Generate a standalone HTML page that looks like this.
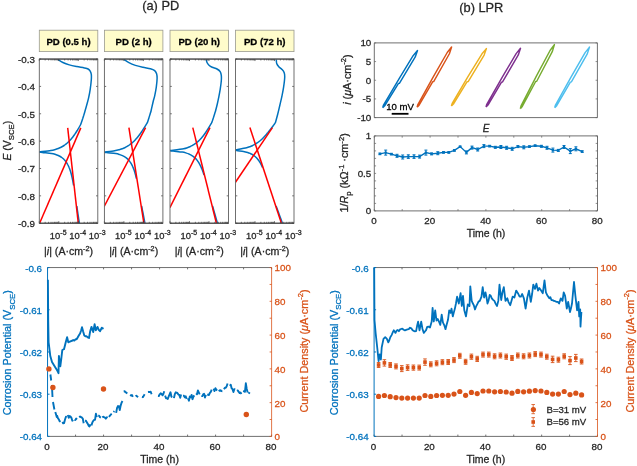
<!DOCTYPE html>
<html><head><meta charset="utf-8"><style>
html,body{margin:0;padding:0;background:#fff;width:637px;height:466px;overflow:hidden}
svg{display:block;filter:blur(0.4px)}
text{font-family:"Liberation Sans",sans-serif;stroke-width:0.28px}
</style></head><body>
<svg width="637" height="466" viewBox="0 0 637 466">
<rect width="637" height="466" fill="#fff"/>
<text x="160.7" y="10.4" font-size="12.8" text-anchor="middle" fill="#262626" stroke="#262626" >(a) PD</text>
<text x="481.3" y="12.2" font-size="12.8" text-anchor="middle" fill="#262626" stroke="#262626" >(b) LPR</text>
<rect x="39.3" y="30.2" width="58.5" height="21.4" fill="#FFFCCB" stroke="#9a9a90" stroke-width="0.8"/>
<text x="68.55" y="44.6" font-size="9.6" text-anchor="middle" fill="#000" stroke="#000" font-weight="bold">PD (0.5 h)</text>
<g clip-path="url(#pc0)">
<path d="M58,59.5 C58.82,60 61.02,61.6 62.9,62.5 C64.78,63.4 66.98,64.22 69.3,64.9 C71.62,65.58 74.3,66.1 76.8,66.6 C79.3,67.1 82.42,67.5 84.3,67.9 C86.18,68.3 87.12,68.47 88.1,69 C89.08,69.53 89.67,70.22 90.2,71.1 C90.73,71.98 91.12,72.87 91.3,74.3 C91.48,75.73 91.48,77.2 91.3,79.7 C91.12,82.2 90.65,86.27 90.2,89.3 C89.75,92.33 89.2,95.2 88.6,97.9 C88,100.6 87.27,103.07 86.6,105.5 C85.93,107.93 85.03,111 84.6,112.5 C84.17,114 84.15,114 83.99,114.5 C83.84,115 83.79,115.17 83.69,115.5 C83.58,115.83 83.48,116.17 83.37,116.5 C83.27,116.83 83.16,117.17 83.06,117.5 C82.95,117.83 82.84,118.17 82.74,118.5 C82.63,118.83 82.52,119.17 82.41,119.5 C82.3,119.83 82.19,120.17 82.08,120.5 C81.97,120.83 81.85,121.17 81.74,121.5 C81.62,121.83 81.51,122.17 81.39,122.5 C81.28,122.83 81.16,123.17 81.04,123.5 C80.92,123.83 80.83,124.17 80.68,124.5 C80.53,124.83 80.32,125.17 80.13,125.5 C79.95,125.83 79.76,126.17 79.57,126.5 C79.38,126.83 79.19,127.17 79,127.5 C78.81,127.83 78.62,128.17 78.42,128.5 C78.23,128.83 78.03,129.17 77.83,129.5 C77.63,129.83 77.43,130.17 77.22,130.5 C77.02,130.83 76.81,131.17 76.6,131.5 C76.39,131.83 76.17,132.17 75.96,132.5 C75.74,132.83 75.52,133.17 75.3,133.5 C75.07,133.83 74.85,134.17 74.61,134.5 C74.38,134.83 74.15,135.17 73.91,135.5 C73.67,135.83 73.42,136.17 73.17,136.5 C72.92,136.83 72.67,137.17 72.4,137.5 C72.14,137.83 71.87,138.17 71.6,138.5 C71.32,138.83 71.04,139.17 70.75,139.5 C70.46,139.83 70.16,140.17 69.85,140.5 C69.54,140.83 69.22,141.17 68.88,141.5 C68.55,141.83 68.21,142.17 67.85,142.5 C67.49,142.83 67.11,143.17 66.72,143.5 C66.32,143.83 65.92,144.17 65.48,144.5 C65.04,144.83 64.58,145.17 64.08,145.5 C63.59,145.83 63.07,146.17 62.49,146.5 C61.91,146.83 61.31,147.17 60.62,147.5 C59.92,147.83 59.21,148.17 58.32,148.5 C57.44,148.83 56.56,149.17 55.31,149.5 C54.06,149.83 53.49,150.08 50.83,150.5 C48.16,150.92 41.22,151.75 39.3,152.01" fill="none" stroke="#0072BD" stroke-width="1.5" stroke-linejoin="round"/>
<path d="M39.3,152.01 C39.8,152.09 40.3,152.26 42.32,152.51 C44.35,152.76 49.23,153.17 51.45,153.51 C53.66,153.84 54.46,154.17 55.6,154.51 C56.74,154.84 57.51,155.17 58.29,155.51 C59.06,155.84 59.67,156.17 60.25,156.51 C60.84,156.84 61.32,157.17 61.79,157.51 C62.26,157.84 62.66,158.17 63.05,158.51 C63.43,158.84 63.78,159.17 64.1,159.51 C64.43,159.84 64.73,160.17 65.01,160.51 C65.3,160.84 65.56,161.17 65.8,161.51 C66.05,161.84 66.28,162.17 66.5,162.51 C66.73,162.84 66.93,163.17 67.13,163.51 C67.33,163.84 67.52,164.17 67.69,164.51 C67.87,164.84 68.04,165.17 68.21,165.51 C68.37,165.84 68.52,166.17 68.67,166.51 C68.82,166.84 68.97,167.17 69.1,167.51 C69.24,167.84 69.37,168.17 69.5,168.51 C69.63,168.84 69.75,169.17 69.87,169.51 C69.99,169.84 70.1,170.17 70.21,170.51 C70.32,170.84 70.43,171.17 70.53,171.51 C70.63,171.84 70.73,172.17 70.83,172.51 C70.93,172.84 71.02,173.17 71.11,173.51 C71.2,173.84 71.29,174.17 71.38,174.51 C71.47,174.84 71.55,175.17 71.63,175.51 C71.71,175.84 71.79,176.17 71.87,176.51 C71.95,176.84 72.02,177.17 72.1,177.51 C72.17,177.84 72.24,178.17 72.31,178.51 C72.38,178.84 72.45,179.17 72.52,179.51 C72.59,179.84 72.65,180.17 72.72,180.51 C72.78,180.84 72.85,181.17 72.91,181.51 C72.97,181.84 73.03,182.17 73.09,182.51 C73.15,182.84 73.21,183.17 73.27,183.51 C73.33,183.84 73.38,184.17 73.44,184.51 C73.5,184.84 73.58,185.34 73.6,185.51" fill="none" stroke="#0072BD" stroke-width="1.5" stroke-linejoin="round"/>
<path d="M76.77,206L79.49,224.2" fill="none" stroke="#0072BD" stroke-width="1.5"/>
<line x1="67.7" y1="127.9" x2="78.3" y2="223.4" stroke="#FF0000" stroke-width="1.5"/>
<line x1="80.8" y1="127.9" x2="39.5" y2="223.4" stroke="#FF0000" stroke-width="1.5"/>
</g>
<clipPath id="pc0"><rect x="39.3" y="59.05" width="58.5" height="164.15"/></clipPath>
<path d="M39.3,59.05h1.8M97.8,59.05h-1.8M39.3,86.41h1.8M97.8,86.41h-1.8M39.3,113.77h1.8M97.8,113.77h-1.8M39.3,141.12h1.8M97.8,141.12h-1.8M39.3,168.48h1.8M97.8,168.48h-1.8M39.3,195.84h1.8M97.8,195.84h-1.8M39.3,223.2h1.8M97.8,223.2h-1.8M39.3,223.2v-2.0M39.3,59.05v2.0M45.17,223.2v-1.4M45.17,59.05v1.4M48.6,223.2v-1.4M48.6,59.05v1.4M51.04,223.2v-1.4M51.04,59.05v1.4M52.93,223.2v-1.4M52.93,59.05v1.4M54.47,223.2v-1.4M54.47,59.05v1.4M55.78,223.2v-1.4M55.78,59.05v1.4M56.91,223.2v-1.4M56.91,59.05v1.4M57.91,223.2v-1.4M57.91,59.05v1.4M58.8,223.2v-2.0M58.8,59.05v2.0M64.67,223.2v-1.4M64.67,59.05v1.4M68.1,223.2v-1.4M68.1,59.05v1.4M70.54,223.2v-1.4M70.54,59.05v1.4M72.43,223.2v-1.4M72.43,59.05v1.4M73.97,223.2v-1.4M73.97,59.05v1.4M75.28,223.2v-1.4M75.28,59.05v1.4M76.41,223.2v-1.4M76.41,59.05v1.4M77.41,223.2v-1.4M77.41,59.05v1.4M78.3,223.2v-2.0M78.3,59.05v2.0M84.17,223.2v-1.4M84.17,59.05v1.4M87.6,223.2v-1.4M87.6,59.05v1.4M90.04,223.2v-1.4M90.04,59.05v1.4M91.93,223.2v-1.4M91.93,59.05v1.4M93.47,223.2v-1.4M93.47,59.05v1.4M94.78,223.2v-1.4M94.78,59.05v1.4M95.91,223.2v-1.4M95.91,59.05v1.4M96.91,223.2v-1.4M96.91,59.05v1.4" stroke="#383838" stroke-width="0.7" fill="none"/>
<rect x="39.3" y="59.05" width="58.5" height="164.15" fill="none" stroke="#606060" stroke-width="0.9"/>
<path d="M39.3,59.05H97.8M39.3,223.2H97.8" stroke="#333" stroke-width="0.9" fill="none"/>
<text x="58.2" y="238.8" font-size="9.4" fill="#262626" stroke="#262626" text-anchor="middle">10<tspan font-size="7" dy="-3.8">-5</tspan></text>
<text x="77.7" y="238.8" font-size="9.4" fill="#262626" stroke="#262626" text-anchor="middle">10<tspan font-size="7" dy="-3.8">-4</tspan></text>
<text x="97.2" y="238.8" font-size="9.4" fill="#262626" stroke="#262626" text-anchor="middle">10<tspan font-size="7" dy="-3.8">-3</tspan></text>
<text x="68.55" y="254.6" font-size="10.6" fill="#262626" stroke="#262626" text-anchor="middle">|<tspan font-style="italic">i</tspan>| (A·cm<tspan font-size="7.2" dy="-3.9">-2</tspan><tspan dy="3.9">)</tspan></text>
<rect x="104.4" y="30.2" width="58.5" height="21.4" fill="#FFFCCB" stroke="#9a9a90" stroke-width="0.8"/>
<text x="133.65" y="44.6" font-size="9.6" text-anchor="middle" fill="#000" stroke="#000" font-weight="bold">PD (2 h)</text>
<g clip-path="url(#pc1)">
<path d="M124.1,59.5 C124.9,60.03 127.02,61.72 128.9,62.7 C130.78,63.68 133.07,64.63 135.4,65.4 C137.73,66.17 140.4,66.75 142.9,67.3 C145.4,67.85 148.43,68.15 150.4,68.7 C152.37,69.25 153.67,69.75 154.7,70.6 C155.73,71.45 156.2,72.47 156.6,73.8 C157,75.13 157.15,76.37 157.1,78.6 C157.05,80.83 156.7,84.33 156.3,87.2 C155.9,90.07 155.2,93.5 154.7,95.8 C154.2,98.1 153.9,98.52 153.3,101 C152.7,103.48 151.57,108.75 151.1,110.7 C150.63,112.65 150.65,112.2 150.51,112.7 C150.36,113.2 150.31,113.37 150.2,113.7 C150.1,114.03 150,114.37 149.9,114.7 C149.8,115.03 149.7,115.37 149.59,115.7 C149.49,116.03 149.39,116.37 149.28,116.7 C149.18,117.03 149.08,117.37 148.97,117.7 C148.87,118.03 148.76,118.37 148.65,118.7 C148.55,119.03 148.44,119.37 148.33,119.7 C148.22,120.03 148.12,120.37 148.01,120.7 C147.9,121.03 147.79,121.37 147.67,121.7 C147.56,122.03 147.49,122.37 147.34,122.7 C147.18,123.03 146.94,123.37 146.74,123.7 C146.54,124.03 146.34,124.37 146.13,124.7 C145.93,125.03 145.73,125.37 145.52,125.7 C145.31,126.03 145.11,126.37 144.9,126.7 C144.69,127.03 144.48,127.37 144.27,127.7 C144.06,128.03 143.84,128.37 143.63,128.7 C143.41,129.03 143.19,129.37 142.97,129.7 C142.75,130.03 142.53,130.37 142.31,130.7 C142.08,131.03 141.86,131.37 141.63,131.7 C141.4,132.03 141.17,132.37 140.93,132.7 C140.69,133.03 140.46,133.37 140.21,133.7 C139.97,134.03 139.73,134.37 139.48,134.7 C139.23,135.03 138.98,135.37 138.72,135.7 C138.46,136.03 138.2,136.37 137.93,136.7 C137.66,137.03 137.39,137.37 137.11,137.7 C136.83,138.03 136.55,138.37 136.26,138.7 C135.96,139.03 135.67,139.37 135.36,139.7 C135.05,140.03 134.74,140.37 134.41,140.7 C134.08,141.03 133.75,141.37 133.4,141.7 C133.05,142.03 132.69,142.37 132.31,142.7 C131.94,143.03 131.55,143.37 131.14,143.7 C130.73,144.03 130.3,144.37 129.85,144.7 C129.39,145.03 128.92,145.37 128.4,145.7 C127.89,146.03 127.35,146.37 126.75,146.7 C126.16,147.03 125.54,147.37 124.82,147.7 C124.1,148.03 123.35,148.37 122.43,148.7 C121.51,149.03 120.61,149.37 119.29,149.7 C117.98,150.03 117.03,150.3 114.55,150.7 C112.07,151.1 106.09,151.87 104.4,152.11" fill="none" stroke="#0072BD" stroke-width="1.5" stroke-linejoin="round"/>
<path d="M104.4,152.11 C104.76,152.19 104.71,152.36 106.59,152.61 C108.47,152.86 113.48,153.27 115.69,153.61 C117.9,153.94 118.69,154.27 119.82,154.61 C120.95,154.94 121.72,155.27 122.48,155.61 C123.25,155.94 123.85,156.27 124.43,156.61 C125.01,156.94 125.49,157.27 125.95,157.61 C126.41,157.94 126.81,158.27 127.19,158.61 C127.57,158.94 127.91,159.27 128.23,159.61 C128.55,159.94 128.84,160.27 129.12,160.61 C129.4,160.94 129.66,161.27 129.9,161.61 C130.15,161.94 130.37,162.27 130.59,162.61 C130.81,162.94 131.01,163.27 131.21,163.61 C131.4,163.94 131.58,164.27 131.76,164.61 C131.94,164.94 132.1,165.27 132.26,165.61 C132.42,165.94 132.58,166.27 132.72,166.61 C132.87,166.94 133.01,167.27 133.15,167.61 C133.28,167.94 133.41,168.27 133.54,168.61 C133.67,168.94 133.79,169.27 133.91,169.61 C134.02,169.94 134.14,170.27 134.25,170.61 C134.36,170.94 134.46,171.27 134.57,171.61 C134.67,171.94 134.77,172.27 134.87,172.61 C134.97,172.94 135.06,173.27 135.15,173.61 C135.25,173.94 135.34,174.27 135.42,174.61 C135.51,174.94 135.6,175.27 135.68,175.61 C135.77,175.94 135.85,176.27 135.93,176.61 C136.01,176.94 136.09,177.27 136.16,177.61 C136.24,177.94 136.35,178.44 136.39,178.61" fill="none" stroke="#0072BD" stroke-width="1.5" stroke-linejoin="round"/>
<path d="M141.59,206L145.14,224.2" fill="none" stroke="#0072BD" stroke-width="1.5"/>
<line x1="128.9" y1="127.6" x2="143.9" y2="223.3" stroke="#FF0000" stroke-width="1.5"/>
<line x1="145.6" y1="127.6" x2="104.2" y2="206.5" stroke="#FF0000" stroke-width="1.5"/>
</g>
<clipPath id="pc1"><rect x="104.4" y="59.05" width="58.5" height="164.15"/></clipPath>
<path d="M104.4,59.05h1.8M162.9,59.05h-1.8M104.4,86.41h1.8M162.9,86.41h-1.8M104.4,113.77h1.8M162.9,113.77h-1.8M104.4,141.12h1.8M162.9,141.12h-1.8M104.4,168.48h1.8M162.9,168.48h-1.8M104.4,195.84h1.8M162.9,195.84h-1.8M104.4,223.2h1.8M162.9,223.2h-1.8M104.4,223.2v-2.0M104.4,59.05v2.0M110.27,223.2v-1.4M110.27,59.05v1.4M113.7,223.2v-1.4M113.7,59.05v1.4M116.14,223.2v-1.4M116.14,59.05v1.4M118.03,223.2v-1.4M118.03,59.05v1.4M119.57,223.2v-1.4M119.57,59.05v1.4M120.88,223.2v-1.4M120.88,59.05v1.4M122.01,223.2v-1.4M122.01,59.05v1.4M123.01,223.2v-1.4M123.01,59.05v1.4M123.9,223.2v-2.0M123.9,59.05v2.0M129.77,223.2v-1.4M129.77,59.05v1.4M133.2,223.2v-1.4M133.2,59.05v1.4M135.64,223.2v-1.4M135.64,59.05v1.4M137.53,223.2v-1.4M137.53,59.05v1.4M139.07,223.2v-1.4M139.07,59.05v1.4M140.38,223.2v-1.4M140.38,59.05v1.4M141.51,223.2v-1.4M141.51,59.05v1.4M142.51,223.2v-1.4M142.51,59.05v1.4M143.4,223.2v-2.0M143.4,59.05v2.0M149.27,223.2v-1.4M149.27,59.05v1.4M152.7,223.2v-1.4M152.7,59.05v1.4M155.14,223.2v-1.4M155.14,59.05v1.4M157.03,223.2v-1.4M157.03,59.05v1.4M158.57,223.2v-1.4M158.57,59.05v1.4M159.88,223.2v-1.4M159.88,59.05v1.4M161.01,223.2v-1.4M161.01,59.05v1.4M162.01,223.2v-1.4M162.01,59.05v1.4" stroke="#383838" stroke-width="0.7" fill="none"/>
<rect x="104.4" y="59.05" width="58.5" height="164.15" fill="none" stroke="#606060" stroke-width="0.9"/>
<path d="M104.4,59.05H162.9M104.4,223.2H162.9" stroke="#333" stroke-width="0.9" fill="none"/>
<text x="123.3" y="238.8" font-size="9.4" fill="#262626" stroke="#262626" text-anchor="middle">10<tspan font-size="7" dy="-3.8">-5</tspan></text>
<text x="142.8" y="238.8" font-size="9.4" fill="#262626" stroke="#262626" text-anchor="middle">10<tspan font-size="7" dy="-3.8">-4</tspan></text>
<text x="162.3" y="238.8" font-size="9.4" fill="#262626" stroke="#262626" text-anchor="middle">10<tspan font-size="7" dy="-3.8">-3</tspan></text>
<text x="133.65" y="254.6" font-size="10.6" fill="#262626" stroke="#262626" text-anchor="middle">|<tspan font-style="italic">i</tspan>| (A·cm<tspan font-size="7.2" dy="-3.9">-2</tspan><tspan dy="3.9">)</tspan></text>
<rect x="170" y="30.2" width="58.5" height="21.4" fill="#FFFCCB" stroke="#9a9a90" stroke-width="0.8"/>
<text x="199.25" y="44.6" font-size="9.6" text-anchor="middle" fill="#000" stroke="#000" font-weight="bold">PD (20 h)</text>
<g clip-path="url(#pc2)">
<path d="M206.3,59.5 C206.42,60 206.55,61.55 207,62.5 C207.45,63.45 208.13,64.4 209,65.2 C209.87,66 210.87,66.67 212.2,67.3 C213.53,67.93 215.67,68.28 217,69 C218.33,69.72 219.48,70.53 220.2,71.6 C220.92,72.67 221.12,73.87 221.3,75.4 C221.48,76.93 221.48,78.48 221.3,80.8 C221.12,83.12 220.65,86.45 220.2,89.3 C219.75,92.15 219.08,95.45 218.6,97.9 C218.12,100.35 217.8,101.87 217.3,104 C216.8,106.13 215.99,109.25 215.6,110.7 C215.21,112.15 215.14,112.2 214.98,112.7 C214.83,113.2 214.78,113.37 214.67,113.7 C214.57,114.03 214.46,114.37 214.36,114.7 C214.25,115.03 214.15,115.37 214.04,115.7 C213.93,116.03 213.83,116.37 213.72,116.7 C213.61,117.03 213.5,117.37 213.4,117.7 C213.29,118.03 213.18,118.37 213.07,118.7 C212.96,119.03 212.85,119.37 212.73,119.7 C212.62,120.03 212.51,120.37 212.4,120.7 C212.28,121.03 212.17,121.37 212.05,121.7 C211.94,122.03 211.86,122.37 211.7,122.7 C211.55,123.03 211.32,123.37 211.13,123.7 C210.94,124.03 210.74,124.37 210.55,124.7 C210.35,125.03 210.15,125.37 209.96,125.7 C209.76,126.03 209.56,126.37 209.36,126.7 C209.16,127.03 208.95,127.37 208.75,127.7 C208.54,128.03 208.34,128.37 208.13,128.7 C207.92,129.03 207.71,129.37 207.49,129.7 C207.28,130.03 207.06,130.37 206.84,130.7 C206.62,131.03 206.4,131.37 206.18,131.7 C205.95,132.03 205.72,132.37 205.49,132.7 C205.26,133.03 205.02,133.37 204.79,133.7 C204.55,134.03 204.3,134.37 204.05,134.7 C203.81,135.03 203.55,135.37 203.29,135.7 C203.04,136.03 202.77,136.37 202.5,136.7 C202.23,137.03 201.95,137.37 201.67,137.7 C201.39,138.03 201.09,138.37 200.79,138.7 C200.49,139.03 200.18,139.37 199.86,139.7 C199.54,140.03 199.21,140.37 198.86,140.7 C198.51,141.03 198.16,141.37 197.78,141.7 C197.4,142.03 197.01,142.37 196.6,142.7 C196.18,143.03 195.75,143.37 195.28,143.7 C194.82,144.03 194.33,144.37 193.8,144.7 C193.26,145.03 192.7,145.37 192.07,145.7 C191.43,146.03 190.77,146.37 189.98,146.7 C189.19,147.03 188.39,147.37 187.33,147.7 C186.26,148.03 186.49,148.22 183.6,148.7 C180.71,149.18 172.27,150.28 170,150.6" fill="none" stroke="#0072BD" stroke-width="1.5" stroke-linejoin="round"/>
<path d="M170,150.6 C170.52,150.68 171.09,150.85 173.13,151.1 C175.18,151.35 180.07,151.77 182.29,152.1 C184.52,152.43 185.33,152.77 186.48,153.1 C187.63,153.43 188.41,153.77 189.2,154.1 C189.99,154.43 190.61,154.77 191.2,155.1 C191.8,155.43 192.3,155.77 192.78,156.1 C193.26,156.43 193.68,156.77 194.08,157.1 C194.48,157.43 194.84,157.77 195.19,158.1 C195.53,158.43 195.84,158.77 196.14,159.1 C196.44,159.43 196.72,159.77 196.98,160.1 C197.25,160.43 197.49,160.77 197.73,161.1 C197.97,161.43 198.2,161.77 198.41,162.1 C198.63,162.43 198.83,162.77 199.03,163.1 C199.23,163.43 199.42,163.77 199.6,164.1 C199.78,164.43 199.96,164.77 200.13,165.1 C200.3,165.43 200.46,165.77 200.62,166.1 C200.78,166.43 200.93,166.77 201.08,167.1 C201.23,167.43 201.37,167.77 201.51,168.1 C201.65,168.43 201.79,168.77 201.92,169.1 C202.05,169.43 202.18,169.77 202.31,170.1 C202.44,170.43 202.56,170.77 202.68,171.1 C202.8,171.43 202.92,171.77 203.04,172.1 C203.16,172.43 203.27,172.77 203.38,173.1 C203.5,173.43 203.61,173.77 203.71,174.1 C203.82,174.43 203.98,174.93 204.04,175.1" fill="none" stroke="#0072BD" stroke-width="1.5" stroke-linejoin="round"/>
<path d="M212.53,206L217.72,224.2" fill="none" stroke="#0072BD" stroke-width="1.5"/>
<line x1="192.8" y1="127.6" x2="216.4" y2="223.3" stroke="#FF0000" stroke-width="1.5"/>
<line x1="210" y1="127.6" x2="169.9" y2="207.6" stroke="#FF0000" stroke-width="1.5"/>
</g>
<clipPath id="pc2"><rect x="170" y="59.05" width="58.5" height="164.15"/></clipPath>
<path d="M170,59.05h1.8M228.5,59.05h-1.8M170,86.41h1.8M228.5,86.41h-1.8M170,113.77h1.8M228.5,113.77h-1.8M170,141.12h1.8M228.5,141.12h-1.8M170,168.48h1.8M228.5,168.48h-1.8M170,195.84h1.8M228.5,195.84h-1.8M170,223.2h1.8M228.5,223.2h-1.8M170,223.2v-2.0M170,59.05v2.0M175.87,223.2v-1.4M175.87,59.05v1.4M179.3,223.2v-1.4M179.3,59.05v1.4M181.74,223.2v-1.4M181.74,59.05v1.4M183.63,223.2v-1.4M183.63,59.05v1.4M185.17,223.2v-1.4M185.17,59.05v1.4M186.48,223.2v-1.4M186.48,59.05v1.4M187.61,223.2v-1.4M187.61,59.05v1.4M188.61,223.2v-1.4M188.61,59.05v1.4M189.5,223.2v-2.0M189.5,59.05v2.0M195.37,223.2v-1.4M195.37,59.05v1.4M198.8,223.2v-1.4M198.8,59.05v1.4M201.24,223.2v-1.4M201.24,59.05v1.4M203.13,223.2v-1.4M203.13,59.05v1.4M204.67,223.2v-1.4M204.67,59.05v1.4M205.98,223.2v-1.4M205.98,59.05v1.4M207.11,223.2v-1.4M207.11,59.05v1.4M208.11,223.2v-1.4M208.11,59.05v1.4M209,223.2v-2.0M209,59.05v2.0M214.87,223.2v-1.4M214.87,59.05v1.4M218.3,223.2v-1.4M218.3,59.05v1.4M220.74,223.2v-1.4M220.74,59.05v1.4M222.63,223.2v-1.4M222.63,59.05v1.4M224.17,223.2v-1.4M224.17,59.05v1.4M225.48,223.2v-1.4M225.48,59.05v1.4M226.61,223.2v-1.4M226.61,59.05v1.4M227.61,223.2v-1.4M227.61,59.05v1.4" stroke="#383838" stroke-width="0.7" fill="none"/>
<rect x="170" y="59.05" width="58.5" height="164.15" fill="none" stroke="#606060" stroke-width="0.9"/>
<path d="M170,59.05H228.5M170,223.2H228.5" stroke="#333" stroke-width="0.9" fill="none"/>
<text x="188.9" y="238.8" font-size="9.4" fill="#262626" stroke="#262626" text-anchor="middle">10<tspan font-size="7" dy="-3.8">-5</tspan></text>
<text x="208.4" y="238.8" font-size="9.4" fill="#262626" stroke="#262626" text-anchor="middle">10<tspan font-size="7" dy="-3.8">-4</tspan></text>
<text x="227.9" y="238.8" font-size="9.4" fill="#262626" stroke="#262626" text-anchor="middle">10<tspan font-size="7" dy="-3.8">-3</tspan></text>
<text x="199.25" y="254.6" font-size="10.6" fill="#262626" stroke="#262626" text-anchor="middle">|<tspan font-style="italic">i</tspan>| (A·cm<tspan font-size="7.2" dy="-3.9">-2</tspan><tspan dy="3.9">)</tspan></text>
<rect x="235.5" y="30.2" width="58.5" height="21.4" fill="#FFFCCB" stroke="#9a9a90" stroke-width="0.8"/>
<text x="264.75" y="44.6" font-size="9.6" text-anchor="middle" fill="#000" stroke="#000" font-weight="bold">PD (72 h)</text>
<g clip-path="url(#pc3)">
<path d="M276.3,59.5 C276.37,60.18 276.28,62.38 276.7,63.6 C277.12,64.82 277.92,65.82 278.8,66.8 C279.68,67.78 281.1,68.52 282,69.5 C282.9,70.48 283.75,71.37 284.2,72.7 C284.65,74.03 284.8,75.08 284.7,77.5 C284.6,79.92 284.05,84.15 283.6,87.2 C283.15,90.25 282.62,92.83 282,95.8 C281.38,98.77 280.47,102.52 279.9,105 C279.33,107.48 278.9,109.42 278.6,110.7 C278.3,111.98 278.21,112.2 278.08,112.7 C277.95,113.2 277.91,113.37 277.82,113.7 C277.74,114.03 277.65,114.37 277.56,114.7 C277.47,115.03 277.39,115.37 277.3,115.7 C277.21,116.03 277.12,116.37 277.03,116.7 C276.94,117.03 276.85,117.37 276.76,117.7 C276.67,118.03 276.58,118.37 276.49,118.7 C276.4,119.03 276.31,119.37 276.22,119.7 C276.13,120.03 276.03,120.37 275.94,120.7 C275.85,121.03 275.75,121.37 275.66,121.7 C275.56,122.03 275.54,122.37 275.37,122.7 C275.2,123.03 274.89,123.37 274.65,123.7 C274.41,124.03 274.17,124.37 273.93,124.7 C273.68,125.03 273.44,125.37 273.2,125.7 C272.95,126.03 272.7,126.37 272.46,126.7 C272.21,127.03 271.96,127.37 271.71,127.7 C271.46,128.03 271.21,128.37 270.95,128.7 C270.7,129.03 270.44,129.37 270.18,129.7 C269.92,130.03 269.66,130.37 269.4,130.7 C269.14,131.03 268.87,131.37 268.6,131.7 C268.33,132.03 268.06,132.37 267.79,132.7 C267.51,133.03 267.24,133.37 266.95,133.7 C266.67,134.03 266.39,134.37 266.1,134.7 C265.8,135.03 265.51,135.37 265.21,135.7 C264.91,136.03 264.6,136.37 264.29,136.7 C263.98,137.03 263.66,137.37 263.33,137.7 C263.01,138.03 262.67,138.37 262.33,138.7 C261.98,139.03 261.63,139.37 261.26,139.7 C260.9,140.03 260.52,140.37 260.13,140.7 C259.74,141.03 259.33,141.37 258.91,141.7 C258.48,142.03 258.04,142.37 257.57,142.7 C257.1,143.03 256.61,143.37 256.08,143.7 C255.55,144.03 255,144.37 254.38,144.7 C253.77,145.03 253.13,145.37 252.39,145.7 C251.64,146.03 250.88,146.37 249.93,146.7 C248.97,147.03 248.04,147.37 246.66,147.7 C245.27,148.03 243.46,148.32 241.6,148.7 C239.75,149.08 236.52,149.77 235.5,149.99" fill="none" stroke="#0072BD" stroke-width="1.5" stroke-linejoin="round"/>
<path d="M235.5,149.99 C235.69,150.07 235.3,150.24 236.64,150.49 C237.97,150.74 241.68,151.16 243.52,151.49 C245.35,151.82 246.53,152.16 247.66,152.49 C248.8,152.82 249.57,153.16 250.34,153.49 C251.12,153.82 251.72,154.16 252.31,154.49 C252.9,154.82 253.39,155.16 253.86,155.49 C254.33,155.82 254.74,156.16 255.13,156.49 C255.52,156.82 255.87,157.16 256.21,157.49 C256.54,157.82 256.85,158.16 257.14,158.49 C257.43,158.82 257.7,159.16 257.96,159.49 C258.22,159.82 258.47,160.16 258.7,160.49 C258.93,160.82 259.15,161.16 259.37,161.49 C259.58,161.82 259.78,162.16 259.98,162.49 C260.17,162.82 260.36,163.16 260.54,163.49 C260.73,163.82 260.9,164.16 261.07,164.49 C261.24,164.82 261.41,165.16 261.57,165.49 C261.73,165.82 261.88,166.16 262.03,166.49 C262.19,166.82 262.4,167.32 262.48,167.49" fill="none" stroke="#0072BD" stroke-width="1.5" stroke-linejoin="round"/>
<path d="M276.11,206L282.8,224.2" fill="none" stroke="#0072BD" stroke-width="1.5"/>
<line x1="249.9" y1="127.6" x2="281.4" y2="223.3" stroke="#FF0000" stroke-width="1.5"/>
<line x1="272.4" y1="127.6" x2="235.3" y2="182.5" stroke="#FF0000" stroke-width="1.5"/>
</g>
<clipPath id="pc3"><rect x="235.5" y="59.05" width="58.5" height="164.15"/></clipPath>
<path d="M235.5,59.05h1.8M294,59.05h-1.8M235.5,86.41h1.8M294,86.41h-1.8M235.5,113.77h1.8M294,113.77h-1.8M235.5,141.12h1.8M294,141.12h-1.8M235.5,168.48h1.8M294,168.48h-1.8M235.5,195.84h1.8M294,195.84h-1.8M235.5,223.2h1.8M294,223.2h-1.8M235.5,223.2v-2.0M235.5,59.05v2.0M241.37,223.2v-1.4M241.37,59.05v1.4M244.8,223.2v-1.4M244.8,59.05v1.4M247.24,223.2v-1.4M247.24,59.05v1.4M249.13,223.2v-1.4M249.13,59.05v1.4M250.67,223.2v-1.4M250.67,59.05v1.4M251.98,223.2v-1.4M251.98,59.05v1.4M253.11,223.2v-1.4M253.11,59.05v1.4M254.11,223.2v-1.4M254.11,59.05v1.4M255,223.2v-2.0M255,59.05v2.0M260.87,223.2v-1.4M260.87,59.05v1.4M264.3,223.2v-1.4M264.3,59.05v1.4M266.74,223.2v-1.4M266.74,59.05v1.4M268.63,223.2v-1.4M268.63,59.05v1.4M270.17,223.2v-1.4M270.17,59.05v1.4M271.48,223.2v-1.4M271.48,59.05v1.4M272.61,223.2v-1.4M272.61,59.05v1.4M273.61,223.2v-1.4M273.61,59.05v1.4M274.5,223.2v-2.0M274.5,59.05v2.0M280.37,223.2v-1.4M280.37,59.05v1.4M283.8,223.2v-1.4M283.8,59.05v1.4M286.24,223.2v-1.4M286.24,59.05v1.4M288.13,223.2v-1.4M288.13,59.05v1.4M289.67,223.2v-1.4M289.67,59.05v1.4M290.98,223.2v-1.4M290.98,59.05v1.4M292.11,223.2v-1.4M292.11,59.05v1.4M293.11,223.2v-1.4M293.11,59.05v1.4" stroke="#383838" stroke-width="0.7" fill="none"/>
<rect x="235.5" y="59.05" width="58.5" height="164.15" fill="none" stroke="#606060" stroke-width="0.9"/>
<path d="M235.5,59.05H294M235.5,223.2H294" stroke="#333" stroke-width="0.9" fill="none"/>
<text x="254.4" y="238.8" font-size="9.4" fill="#262626" stroke="#262626" text-anchor="middle">10<tspan font-size="7" dy="-3.8">-5</tspan></text>
<text x="273.9" y="238.8" font-size="9.4" fill="#262626" stroke="#262626" text-anchor="middle">10<tspan font-size="7" dy="-3.8">-4</tspan></text>
<text x="293.4" y="238.8" font-size="9.4" fill="#262626" stroke="#262626" text-anchor="middle">10<tspan font-size="7" dy="-3.8">-3</tspan></text>
<text x="264.75" y="254.6" font-size="10.6" fill="#262626" stroke="#262626" text-anchor="middle">|<tspan font-style="italic">i</tspan>| (A·cm<tspan font-size="7.2" dy="-3.9">-2</tspan><tspan dy="3.9">)</tspan></text>
<text x="35" y="63.05" font-size="9.8" text-anchor="end" fill="#262626" stroke="#262626" >-0.3</text>
<text x="35" y="90.41" font-size="9.8" text-anchor="end" fill="#262626" stroke="#262626" >-0.4</text>
<text x="35" y="117.77" font-size="9.8" text-anchor="end" fill="#262626" stroke="#262626" >-0.5</text>
<text x="35" y="145.12" font-size="9.8" text-anchor="end" fill="#262626" stroke="#262626" >-0.6</text>
<text x="35" y="172.48" font-size="9.8" text-anchor="end" fill="#262626" stroke="#262626" >-0.7</text>
<text x="35" y="199.84" font-size="9.8" text-anchor="end" fill="#262626" stroke="#262626" >-0.8</text>
<text x="35" y="227.2" font-size="9.8" text-anchor="end" fill="#262626" stroke="#262626" >-0.9</text>
<text transform="translate(10.6,140.6) rotate(-90)" font-size="10.4" fill="#262626" stroke="#262626" text-anchor="middle"><tspan font-style="italic">E</tspan> (V<tspan font-size="7.8" dy="3.4">SCE</tspan><tspan dy="-3.4">)</tspan></text>
<path d="M374.3,42.9H597.4V117.6H374.3Z" fill="none" stroke="#606060" stroke-width="0.9"/>
<path d="M374.3,42.9h1.8M597.4,42.9h-1.8M374.3,61.57h1.8M597.4,61.57h-1.8M374.3,80.25h1.8M597.4,80.25h-1.8M374.3,98.92h1.8M597.4,98.92h-1.8M374.3,117.6h1.8M597.4,117.6h-1.8" stroke="#606060" stroke-width="0.7" fill="none"/>
<text x="371.3" y="46.4" font-size="9.8" text-anchor="end" fill="#262626" stroke="#262626" >10</text>
<text x="371.3" y="65.07" font-size="9.8" text-anchor="end" fill="#262626" stroke="#262626" >5</text>
<text x="371.3" y="83.75" font-size="9.8" text-anchor="end" fill="#262626" stroke="#262626" >0</text>
<text x="371.3" y="102.42" font-size="9.8" text-anchor="end" fill="#262626" stroke="#262626" >-5</text>
<text x="371.3" y="121.1" font-size="9.8" text-anchor="end" fill="#262626" stroke="#262626" >-10</text>
<text transform="translate(350.8,79.6) rotate(-90)" font-size="10.8" fill="#262626" stroke="#262626" text-anchor="middle"><tspan font-style="italic">i</tspan> (<tspan font-style="italic">μ</tspan>A·cm<tspan font-size="7.6" dy="-5">-2</tspan><tspan dy="5">)</tspan></text>
<path d="M382.7,107.7 L383.49,105.05 L399.16,78.53 L413.12,55.67 L417.5,50.5 L415.26,56.97 L399.38,83.36 L398.35,83.52 L384.69,105.78 L382.7,107.7" fill="none" stroke="#0072BD" stroke-width="1.45" stroke-linejoin="round"/>
<path d="M417.1,107.3 L417.87,104.54 L433.4,76.6 L447.24,52.51 L451.6,47 L449.41,53.75 L433.67,81.56 L432.63,81.77 L419.09,105.24 L417.1,107.3" fill="none" stroke="#D95319" stroke-width="1.45" stroke-linejoin="round"/>
<path d="M451.4,106 L452.2,103.34 L467.96,76.73 L482,53.79 L486.4,48.6 L484.14,55.09 L468.17,81.58 L467.13,81.73 L453.4,104.07 L451.4,106" fill="none" stroke="#EDB120" stroke-width="1.45" stroke-linejoin="round"/>
<path d="M486,107 L486.78,104.3 L502.3,77.09 L516.14,53.64 L520.5,48.3 L518.3,54.9 L502.56,81.98 L501.52,82.16 L487.98,105.01 L486,107" fill="none" stroke="#7E2F8E" stroke-width="1.45" stroke-linejoin="round"/>
<path d="M520.3,108.7 L521.05,105.81 L536.38,76.13 L550.06,50.52 L554.4,44.6 L552.27,51.69 L536.72,81.25 L535.67,81.51 L522.28,106.46 L520.3,108.7" fill="none" stroke="#77AC30" stroke-width="1.45" stroke-linejoin="round"/>
<path d="M554.7,107.8 L555.48,105.02 L571.15,76.9 L585.11,52.65 L589.5,47.1 L587.28,53.89 L571.4,81.89 L570.36,82.1 L556.7,105.72 L554.7,107.8" fill="none" stroke="#4DBEEE" stroke-width="1.45" stroke-linejoin="round"/>
<text x="400" y="109.8" font-size="9.6" fill="#000" stroke="#000" text-anchor="middle">10 mV</text>
<line x1="391.7" y1="113.8" x2="408.5" y2="113.8" stroke="#000" stroke-width="1.8"/>
<text x="486" y="131.5" font-size="10" fill="#262626" stroke="#262626" text-anchor="middle" font-style="italic">E</text>
<path d="M374.3,135.9H597.5V210.9H374.3Z" fill="none" stroke="#606060" stroke-width="0.9"/>
<path d="M374.3,135.9h1.8M597.5,135.9h-1.8M374.3,143.4h1.8M597.5,143.4h-1.8M374.3,150.9h1.8M597.5,150.9h-1.8M374.3,158.4h1.8M597.5,158.4h-1.8M374.3,165.9h1.8M597.5,165.9h-1.8M374.3,173.4h1.8M597.5,173.4h-1.8M374.3,180.9h1.8M597.5,180.9h-1.8M374.3,188.4h1.8M597.5,188.4h-1.8M374.3,195.9h1.8M597.5,195.9h-1.8M374.3,203.4h1.8M597.5,203.4h-1.8M374.3,210.9h1.8M597.5,210.9h-1.8M374.3,210.9v-1.8M374.3,135.9v1.8M402.2,210.9v-1.8M402.2,135.9v1.8M430.1,210.9v-1.8M430.1,135.9v1.8M458,210.9v-1.8M458,135.9v1.8M485.9,210.9v-1.8M485.9,135.9v1.8M513.8,210.9v-1.8M513.8,135.9v1.8M541.7,210.9v-1.8M541.7,135.9v1.8M569.6,210.9v-1.8M569.6,135.9v1.8M597.5,210.9v-1.8M597.5,135.9v1.8" stroke="#606060" stroke-width="0.7" fill="none"/>
<text x="371.3" y="139.4" font-size="9.8" text-anchor="end" fill="#262626" stroke="#262626" >1</text>
<text x="371.3" y="176.9" font-size="9.8" text-anchor="end" fill="#262626" stroke="#262626" >0.5</text>
<text x="371.3" y="214.4" font-size="9.8" text-anchor="end" fill="#262626" stroke="#262626" >0</text>
<text x="374" y="224.2" font-size="9.8" text-anchor="middle" fill="#262626" stroke="#262626" >0</text>
<text x="429.8" y="224.2" font-size="9.8" text-anchor="middle" fill="#262626" stroke="#262626" >20</text>
<text x="485.6" y="224.2" font-size="9.8" text-anchor="middle" fill="#262626" stroke="#262626" >40</text>
<text x="541.4" y="224.2" font-size="9.8" text-anchor="middle" fill="#262626" stroke="#262626" >60</text>
<text x="597.2" y="224.2" font-size="9.8" text-anchor="middle" fill="#262626" stroke="#262626" >80</text>
<text x="486" y="236.8" font-size="10.5" text-anchor="middle" fill="#262626" stroke="#262626" >Time (h)</text>
<text transform="translate(347.9,172.9) rotate(-90)" font-size="10.8" fill="#262626" stroke="#262626" text-anchor="middle">1/<tspan font-style="italic">R</tspan><tspan font-size="7.6" dy="3">p</tspan><tspan dy="-3"> (kΩ</tspan><tspan font-size="7.6" dy="-4">-1</tspan><tspan dy="4"> ·cm</tspan><tspan font-size="7.6" dy="-4">-2</tspan><tspan dy="4">)</tspan></text>
<path d="M379.9,153.9 L385.7,152.6 L391.4,154.1 L397,155.8 L402.7,157 L408.3,156.6 L414,156.6 L419.6,156.6 L425.9,152.6 L431.6,153.9 L437.8,153.2 L443.5,152.4 L448.8,152.4 L454.4,150.4 L460.1,146.6 L466.4,152.4 L472,147.6 L477.7,149.5 L483.9,146.1 L489.6,146.1 L495.3,147.3 L500.9,147 L506.6,147.8 L512.2,148.8 L517.9,146.6 L523.8,147.3 L529.4,146.6 L535.1,145.7 L541.4,146.3 L547,147.8 L552.9,150.1 L558.3,150.4 L564,147 L570.3,151.1 L575.9,148.8 L582.2,151.6" fill="none" stroke="#0072BD" stroke-width="1.4"/>
<path d="M379.9,153.1V154.7M378.4,153.1h3M378.4,154.7h3M385.7,150.1V155.1M384.2,150.1h3M384.2,155.1h3M391.4,153.3V154.9M389.9,153.3h3M389.9,154.9h3M397,154.3V157.3M395.5,154.3h3M395.5,157.3h3M402.7,155V159M401.2,155h3M401.2,159h3M408.3,154.8V158.4M406.8,154.8h3M406.8,158.4h3M414,154.8V158.4M412.5,154.8h3M412.5,158.4h3M419.6,155.1V158.1M418.1,155.1h3M418.1,158.1h3M425.9,150.1V155.1M424.4,150.1h3M424.4,155.1h3M431.6,152.9V154.9M430.1,152.9h3M430.1,154.9h3M437.8,151.7V154.7M436.3,151.7h3M436.3,154.7h3M443.5,151.6V153.2M442,151.6h3M442,153.2h3M448.8,151.6V153.2M447.3,151.6h3M447.3,153.2h3M454.4,149.6V151.2M452.9,149.6h3M452.9,151.2h3M460.1,146.1V147.1M458.6,146.1h3M458.6,147.1h3M466.4,150.9V153.9M464.9,150.9h3M464.9,153.9h3M472,146.1V149.1M470.5,146.1h3M470.5,149.1h3M477.7,148V151M476.2,148h3M476.2,151h3M483.9,144.6V147.6M482.4,144.6h3M482.4,147.6h3M489.6,145.3V146.9M488.1,145.3h3M488.1,146.9h3M495.3,146.3V148.3M493.8,146.3h3M493.8,148.3h3M500.9,145.5V148.5M499.4,145.5h3M499.4,148.5h3M506.6,146.3V149.3M505.1,146.3h3M505.1,149.3h3M512.2,147.3V150.3M510.7,147.3h3M510.7,150.3h3M517.9,145.6V147.6M516.4,145.6h3M516.4,147.6h3M523.8,145.8V148.8M522.3,145.8h3M522.3,148.8h3M529.4,145.8V147.4M527.9,145.8h3M527.9,147.4h3M535.1,144.9V146.5M533.6,144.9h3M533.6,146.5h3M541.4,145.3V147.3M539.9,145.3h3M539.9,147.3h3M547,146.3V149.3M545.5,146.3h3M545.5,149.3h3M552.9,148.1V152.1M551.4,148.1h3M551.4,152.1h3M558.3,149.4V151.4M556.8,149.4h3M556.8,151.4h3M564,145.5V148.5M562.5,145.5h3M562.5,148.5h3M570.3,148.6V153.6M568.8,148.6h3M568.8,153.6h3M575.9,146.8V150.8M574.4,146.8h3M574.4,150.8h3M582.2,150.8V152.4M580.7,150.8h3M580.7,152.4h3" fill="none" stroke="#0072BD" stroke-width="1"/>
<rect x="378.8" y="152.8" width="2.2" height="2.2" fill="#0072BD"/>
<rect x="384.6" y="151.5" width="2.2" height="2.2" fill="#0072BD"/>
<rect x="390.3" y="153" width="2.2" height="2.2" fill="#0072BD"/>
<rect x="395.9" y="154.7" width="2.2" height="2.2" fill="#0072BD"/>
<rect x="401.6" y="155.9" width="2.2" height="2.2" fill="#0072BD"/>
<rect x="407.2" y="155.5" width="2.2" height="2.2" fill="#0072BD"/>
<rect x="412.9" y="155.5" width="2.2" height="2.2" fill="#0072BD"/>
<rect x="418.5" y="155.5" width="2.2" height="2.2" fill="#0072BD"/>
<rect x="424.8" y="151.5" width="2.2" height="2.2" fill="#0072BD"/>
<rect x="430.5" y="152.8" width="2.2" height="2.2" fill="#0072BD"/>
<rect x="436.7" y="152.1" width="2.2" height="2.2" fill="#0072BD"/>
<rect x="442.4" y="151.3" width="2.2" height="2.2" fill="#0072BD"/>
<rect x="447.7" y="151.3" width="2.2" height="2.2" fill="#0072BD"/>
<rect x="453.3" y="149.3" width="2.2" height="2.2" fill="#0072BD"/>
<rect x="459" y="145.5" width="2.2" height="2.2" fill="#0072BD"/>
<rect x="465.3" y="151.3" width="2.2" height="2.2" fill="#0072BD"/>
<rect x="470.9" y="146.5" width="2.2" height="2.2" fill="#0072BD"/>
<rect x="476.6" y="148.4" width="2.2" height="2.2" fill="#0072BD"/>
<rect x="482.8" y="145" width="2.2" height="2.2" fill="#0072BD"/>
<rect x="488.5" y="145" width="2.2" height="2.2" fill="#0072BD"/>
<rect x="494.2" y="146.2" width="2.2" height="2.2" fill="#0072BD"/>
<rect x="499.8" y="145.9" width="2.2" height="2.2" fill="#0072BD"/>
<rect x="505.5" y="146.7" width="2.2" height="2.2" fill="#0072BD"/>
<rect x="511.1" y="147.7" width="2.2" height="2.2" fill="#0072BD"/>
<rect x="516.8" y="145.5" width="2.2" height="2.2" fill="#0072BD"/>
<rect x="522.7" y="146.2" width="2.2" height="2.2" fill="#0072BD"/>
<rect x="528.3" y="145.5" width="2.2" height="2.2" fill="#0072BD"/>
<rect x="534" y="144.6" width="2.2" height="2.2" fill="#0072BD"/>
<rect x="540.3" y="145.2" width="2.2" height="2.2" fill="#0072BD"/>
<rect x="545.9" y="146.7" width="2.2" height="2.2" fill="#0072BD"/>
<rect x="551.8" y="149" width="2.2" height="2.2" fill="#0072BD"/>
<rect x="557.2" y="149.3" width="2.2" height="2.2" fill="#0072BD"/>
<rect x="562.9" y="145.9" width="2.2" height="2.2" fill="#0072BD"/>
<rect x="569.2" y="150" width="2.2" height="2.2" fill="#0072BD"/>
<rect x="574.8" y="147.7" width="2.2" height="2.2" fill="#0072BD"/>
<rect x="581.1" y="150.5" width="2.2" height="2.2" fill="#0072BD"/>
<path d="M47.55,267.55H271.6M47.55,436.4H271.6M47.55,436.4v-1.8M47.55,267.55v1.8M75.56,436.4v-1.8M75.56,267.55v1.8M103.56,436.4v-1.8M103.56,267.55v1.8M131.57,436.4v-1.8M131.57,267.55v1.8M159.57,436.4v-1.8M159.57,267.55v1.8M187.58,436.4v-1.8M187.58,267.55v1.8M215.59,436.4v-1.8M215.59,267.55v1.8M243.59,436.4v-1.8M243.59,267.55v1.8M271.6,436.4v-1.8M271.6,267.55v1.8" stroke="#606060" stroke-width="0.9" fill="none"/>
<path d="M47.55,267.55V436.4M47.55,267.55h2M47.55,309.76h2M47.55,351.98h2M47.55,394.19h2M47.55,436.4h2" stroke="#0072BD" stroke-width="1" fill="none"/>
<path d="M271.6,267.55V436.4M271.6,267.55h-2M271.6,284.44h-2M271.6,301.32h-2M271.6,318.2h-2M271.6,335.09h-2M271.6,351.98h-2M271.6,368.86h-2M271.6,385.75h-2M271.6,402.63h-2M271.6,419.51h-2M271.6,436.4h-2" stroke="#D95319" stroke-width="0.8" fill="none"/>
<text x="42.05" y="271.55" font-size="9.8" text-anchor="end" fill="#0072BD" stroke="#0072BD" >-0.6</text>
<text x="42.05" y="313.76" font-size="9.8" text-anchor="end" fill="#0072BD" stroke="#0072BD" >-0.61</text>
<text x="42.05" y="355.98" font-size="9.8" text-anchor="end" fill="#0072BD" stroke="#0072BD" >-0.62</text>
<text x="42.05" y="398.19" font-size="9.8" text-anchor="end" fill="#0072BD" stroke="#0072BD" >-0.63</text>
<text x="42.05" y="440.4" font-size="9.8" text-anchor="end" fill="#0072BD" stroke="#0072BD" >-0.64</text>
<text x="274.6" y="271.45" font-size="9.8" text-anchor="start" fill="#D95319" stroke="#D95319" >100</text>
<text x="274.6" y="305.22" font-size="9.8" text-anchor="start" fill="#D95319" stroke="#D95319" >80</text>
<text x="274.6" y="338.99" font-size="9.8" text-anchor="start" fill="#D95319" stroke="#D95319" >60</text>
<text x="274.6" y="372.76" font-size="9.8" text-anchor="start" fill="#D95319" stroke="#D95319" >40</text>
<text x="274.6" y="406.53" font-size="9.8" text-anchor="start" fill="#D95319" stroke="#D95319" >20</text>
<text x="274.6" y="440.3" font-size="9.8" text-anchor="start" fill="#D95319" stroke="#D95319" >0</text>
<text x="46.95" y="449.7" font-size="9.8" text-anchor="middle" fill="#262626" stroke="#262626" >0</text>
<text x="102.96" y="449.7" font-size="9.8" text-anchor="middle" fill="#262626" stroke="#262626" >20</text>
<text x="158.97" y="449.7" font-size="9.8" text-anchor="middle" fill="#262626" stroke="#262626" >40</text>
<text x="214.99" y="449.7" font-size="9.8" text-anchor="middle" fill="#262626" stroke="#262626" >60</text>
<text x="271" y="449.7" font-size="9.8" text-anchor="middle" fill="#262626" stroke="#262626" >80</text>
<text x="159.58" y="462.6" font-size="10.5" text-anchor="middle" fill="#262626" stroke="#262626" >Time (h)</text>
<text transform="translate(11.35,352.7) rotate(-90)" font-size="10.8" fill="#0072BD" stroke="#0072BD" text-anchor="middle">Corrosion Potential (V<tspan font-size="7.8" dy="3.4">SCE</tspan><tspan dy="-3.4">)</tspan></text>
<text transform="translate(308,351) rotate(-90)" font-size="10.8" fill="#D95319" stroke="#D95319" text-anchor="middle">Current Density (<tspan font-style="italic">μ</tspan>A·cm<tspan font-size="7.6" dy="-5">-2</tspan><tspan dy="5">)</tspan></text>
<path d="M374.1,267.55H597.5M374.1,436.4H597.5M374.1,436.4v-1.8M374.1,267.55v1.8M402.03,436.4v-1.8M402.03,267.55v1.8M429.95,436.4v-1.8M429.95,267.55v1.8M457.88,436.4v-1.8M457.88,267.55v1.8M485.8,436.4v-1.8M485.8,267.55v1.8M513.73,436.4v-1.8M513.73,267.55v1.8M541.65,436.4v-1.8M541.65,267.55v1.8M569.58,436.4v-1.8M569.58,267.55v1.8M597.5,436.4v-1.8M597.5,267.55v1.8" stroke="#606060" stroke-width="0.9" fill="none"/>
<path d="M374.1,267.55V436.4M374.1,267.55h2M374.1,309.76h2M374.1,351.98h2M374.1,394.19h2M374.1,436.4h2" stroke="#0072BD" stroke-width="1" fill="none"/>
<path d="M597.5,267.55V436.4M597.5,267.55h-2M597.5,284.44h-2M597.5,301.32h-2M597.5,318.2h-2M597.5,335.09h-2M597.5,351.98h-2M597.5,368.86h-2M597.5,385.75h-2M597.5,402.63h-2M597.5,419.51h-2M597.5,436.4h-2" stroke="#D95319" stroke-width="0.8" fill="none"/>
<text x="368.6" y="271.55" font-size="9.8" text-anchor="end" fill="#0072BD" stroke="#0072BD" >-0.6</text>
<text x="368.6" y="313.76" font-size="9.8" text-anchor="end" fill="#0072BD" stroke="#0072BD" >-0.61</text>
<text x="368.6" y="355.98" font-size="9.8" text-anchor="end" fill="#0072BD" stroke="#0072BD" >-0.62</text>
<text x="368.6" y="398.19" font-size="9.8" text-anchor="end" fill="#0072BD" stroke="#0072BD" >-0.63</text>
<text x="368.6" y="440.4" font-size="9.8" text-anchor="end" fill="#0072BD" stroke="#0072BD" >-0.64</text>
<text x="600.5" y="271.45" font-size="9.8" text-anchor="start" fill="#D95319" stroke="#D95319" >100</text>
<text x="600.5" y="305.22" font-size="9.8" text-anchor="start" fill="#D95319" stroke="#D95319" >80</text>
<text x="600.5" y="338.99" font-size="9.8" text-anchor="start" fill="#D95319" stroke="#D95319" >60</text>
<text x="600.5" y="372.76" font-size="9.8" text-anchor="start" fill="#D95319" stroke="#D95319" >40</text>
<text x="600.5" y="406.53" font-size="9.8" text-anchor="start" fill="#D95319" stroke="#D95319" >20</text>
<text x="600.5" y="440.3" font-size="9.8" text-anchor="start" fill="#D95319" stroke="#D95319" >0</text>
<text x="373.5" y="449.7" font-size="9.8" text-anchor="middle" fill="#262626" stroke="#262626" >0</text>
<text x="429.35" y="449.7" font-size="9.8" text-anchor="middle" fill="#262626" stroke="#262626" >20</text>
<text x="485.2" y="449.7" font-size="9.8" text-anchor="middle" fill="#262626" stroke="#262626" >40</text>
<text x="541.05" y="449.7" font-size="9.8" text-anchor="middle" fill="#262626" stroke="#262626" >60</text>
<text x="596.9" y="449.7" font-size="9.8" text-anchor="middle" fill="#262626" stroke="#262626" >80</text>
<text x="485.8" y="462.6" font-size="10.5" text-anchor="middle" fill="#262626" stroke="#262626" >Time (h)</text>
<text transform="translate(337.9,352.7) rotate(-90)" font-size="10.8" fill="#0072BD" stroke="#0072BD" text-anchor="middle">Corrosion Potential (V<tspan font-size="7.8" dy="3.4">SCE</tspan><tspan dy="-3.4">)</tspan></text>
<text transform="translate(633.9,351) rotate(-90)" font-size="10.8" fill="#D95319" stroke="#D95319" text-anchor="middle">Current Density (<tspan font-style="italic">μ</tspan>A·cm<tspan font-size="7.6" dy="-5">-2</tspan><tspan dy="5">)</tspan></text>
<path d="M47.9,279.7 L48.2,320 L48.6,342.3 L50.3,356 L52,362 L53.08,363.75 L54.15,365.5 L55.22,367.25 L56.3,369 L57.4,370.87 L58.5,373.2 L58.9,356 L60.3,366.4 L61.3,358.66 L62.3,350 L64,349.2 L65.75,342.3 L67.1,337.2 L68.3,342.3 L70,341.5 L71.08,341.07 L72.15,340.77 L73.22,339.99 L74.3,340.6 L75.47,339.27 L76.63,339.33 L77.8,337.2 L78.93,335.28 L80.07,333.53 L81.2,330.3 L82,327.2 L83.15,331.57 L84.3,335.5 L85.35,336.26 L86.4,336.3 L87.7,337.32 L89,338 L90.25,330.95 L91.5,326.9 L93.2,332 L94.6,324.3 L95.8,330.3 L97.5,326.9 L98.75,329.82 L100,331.2 L101.8,327.7 L103.5,328.9" fill="none" stroke="#0072BD" stroke-width="1.9" stroke-linejoin="round"/>
<path d="M50.4,374.5L51.2,380.5M51.9,385L52.5,397M53,402L54.4,409.5M55.3,412L57,417.6M57,415.18 L57.9,418.24 L58.8,419.28 L59.7,421.28 L60.6,420.95M62.32,422.08 L63.22,423.38 L64.12,423.07 L65.02,419.45 L65.92,416.81 L66.82,416.96M67.83,414.97 L68.73,417.82 L69.63,416.08 L70.53,416.66 L71.43,417.89 L72.33,420.67 L73.23,419.92M74.42,419.81 L75.32,420.05 L76.22,418.62 L77.12,419.36M79.18,417.13 L80.08,416.42 L80.98,417.16 L81.88,417.51 L82.78,418.55 L83.68,423.3M85.04,420.7 L85.94,420.75 L86.84,422.37 L87.74,423.75 L88.64,425.68 L89.54,426.44 L90.44,424.5M91.43,425.35 L92.33,422.55 L93.23,420.91 L94.13,419.9 L95.03,419.89 L95.93,413.67 L96.83,417.12M98.18,415.65 L99.08,415.75 L99.98,417.12 L100.88,417.62M102.23,417.23 L103.13,416.7 L104.03,417.21 L104.93,417.66 L105.83,418.65 L106.73,417.36 L107.63,416.97M109.04,417.1 L109.94,415.59 L110.84,414.53 L111.74,413.83M113.5,411.94 L114.4,411.09M116.16,412.9 L117.06,407.87 L117.96,406.06 L118.86,406.28 L119.76,410.15 L120.66,405.62 L121.56,402.68 L122.46,401.08M123.7,391.47 L124.6,391.26 L125.5,392.14 L126.4,392.8 L127.3,393.54M130.13,394.89 L131.03,395.55 L131.93,394.99 L132.83,396.94M135.52,396.33 L136.42,395.65 L137.32,396.55 L138.22,397.02M141.95,396.88 L142.85,397.17 L143.75,395.72 L144.65,394.31M148,392 L148.9,391.82 L149.8,392.03 L150.7,391.7 L151.6,394.2M157.95,395.83 L158.85,395.95 L159.75,394.29 L160.65,393.29 L161.55,393.81 L162.45,395.32 L163.35,394.07 L164.25,391.25M165.11,395.6 L166.01,398.21 L166.91,398.27 L167.81,398.9 L168.71,396.46 L169.61,394.29 L170.51,392.25 L171.41,396.7 L172.31,397.27M173.91,398.11 L174.81,394.19 L175.71,392.28 L176.61,392.58 L177.51,393.16 L178.41,394.59 L179.31,394.92 L180.21,397.79 L181.11,394.52M183.01,395.58 L183.91,395.68 L184.81,397.34 L185.71,396.27 L186.61,398.85M188.02,398.3 L188.92,400.68 L189.82,396.57 L190.72,397.32 L191.62,394.93 L192.52,399.18 L193.42,396.63 L194.32,395.36M196.09,393.43 L196.99,394.31 L197.89,390.44 L198.79,392.39 L199.69,394.3M201.39,395.79 L202.29,396.13 L203.19,394.32 L204.09,393.7 L204.99,397.5 L205.89,394.83M207.19,394.77 L208.09,394.75 L208.99,395 L209.89,392.88 L210.79,391.78 L211.69,389.53M213.63,388.69 L214.53,391.04 L215.43,388.18 L216.33,389.73 L217.23,390.44M218.79,389.81 L219.69,390.85 L220.59,390.25 L221.49,391.17 L222.39,391.21M223.98,389.29 L224.88,387.68 L225.78,387.69 L226.68,386.24 L227.58,383.57M229.83,385.77 L230.73,384.74 L231.63,388.26 L232.53,389.13 L233.43,392 L234.33,389.14 L235.23,389.48M236.94,390.84 L237.84,390.41 L238.74,391.96 L239.64,393.03 L240.54,392.45 L241.44,393.91M243.14,390.99 L244.04,391.29 L244.94,391.82 L245.84,383.28 L246.74,388.97 L247.64,392.4M248.75,393.75 L249.65,392.27" fill="none" stroke="#0072BD" stroke-width="1.9" stroke-linejoin="round" stroke-linecap="butt"/>
<circle cx="48.9" cy="368.9" r="2.7" fill="#D95319"/>
<circle cx="52.9" cy="387.5" r="2.7" fill="#D95319"/>
<circle cx="103.5" cy="389" r="2.7" fill="#D95319"/>
<circle cx="246.3" cy="414.5" r="2.7" fill="#D95319"/>
<path d="M374.2,267.6 L374.5,320 L375.7,333.7 L377.4,349.2 L378.6,361.2 L379.7,354.3 L380.9,359.5 L381.7,347.5 L383.5,338.9 L385.2,337.2 L386.9,338.9 L388.3,342.3 L389.3,340.26 L390.3,337.2 L391.6,335.1 L392.9,332 L393.8,330.3 L395.5,332.9 L396.63,330.64 L397.77,330.02 L398.9,331.2 L400.03,329.44 L401.17,329 L402.3,328.6 L403.6,329.76 L404.9,330.3 L406.2,329.8 L407.5,329.4 L408.75,329.07 L410,327.7 L411.3,328.36 L412.6,330.3 L413.77,330.91 L414.93,331.29 L416.1,331.2 L417.1,325.79 L418.1,321.7 L419.5,330.3 L421.2,321.7 L422.5,329.02 L423.8,332.9 L424.93,331.46 L426.07,330.1 L427.2,326.9 L428.6,326.58 L430,327.5 L431.7,321.5 L432.6,307.8 L433.8,321.5 L435.2,310.3 L436.5,320.6 L437.7,318.9 L438.9,321.5 L440.3,324.9 L441.7,314.6 L442.9,322.4 L444.2,325.06 L445.5,329.2 L446.75,324.16 L448,319.8 L449.2,310.3 L450.6,312.9 L451.5,308.6 L452.8,316.4 L453.85,312.39 L454.9,308.6 L456,303.23 L457.1,296.6 L458.8,303.5 L460.6,293.2 L461.8,306 L463,295.8 L464.3,310.3 L466,316.4 L467.8,304.3 L469.5,306 L470.3,286.3 L471.7,300.9 L472.75,303.3 L473.8,305.2 L475,309.5 L476.1,306.45 L477.2,304.3 L478.5,301.64 L479.8,300.9 L481.5,296.6 L482.7,287.2 L484.1,297.5 L485.5,292.3 L486.5,297.38 L487.5,303.5 L488.6,300.42 L489.7,294.9 L490.75,295.79 L491.8,298.3 L493.1,299.84 L494.4,300.9 L495.7,303.88 L497,306 L498.3,300.9 L499.5,284.6 L501.2,300 L502.5,292.11 L503.8,287.2 L505.5,300.9 L507.3,298.3 L508.4,301.8 L510.2,305.2 L511.45,300.95 L512.7,296.6 L514.4,297.5 L516.2,290.6 L517.9,293.2 L519.6,296.6 L520.9,296.61 L522.2,294 L523.9,298.3 L525.6,308.6 L527.3,297.5 L529,290.6 L530.8,301.8 L532.1,294 L533.3,284.6 L535,288.9 L536.4,283.7 L538,290.6 L539.3,288 L541.1,290.6 L542.8,293.2 L544.5,280.3 L545.9,292.3 L547.6,295.8 L549.3,298.3 L550.35,297.14 L551.4,300 L552.65,300.13 L553.9,300.9 L555.2,301.24 L556.5,301.8 L557.8,301.83 L559.1,303.5 L560.8,298.3 L562.5,300.9 L563.7,292.3 L565.1,295.8 L566.8,308.6 L568.2,301.8 L570,312.1 L571,308.3 L572,303.5 L573,292.69 L574,282 L575.4,295.8 L577.1,310.3 L578.5,301.8 L579.2,316.4 L580.2,309.5 L580.5,326.6 L581.4,312" fill="none" stroke="#0072BD" stroke-width="1.8" stroke-linejoin="round"/>
<rect x="376.8" y="363.2" width="3.6" height="3.6" fill="#D95319"/>
<circle cx="378.6" cy="396.4" r="2.6" fill="#D95319"/>
<rect x="382.6" y="361.1" width="3.6" height="3.6" fill="#D95319"/>
<circle cx="384.4" cy="395.5" r="2.6" fill="#D95319"/>
<rect x="388.4" y="363.2" width="3.6" height="3.6" fill="#D95319"/>
<circle cx="390.2" cy="396.7" r="2.6" fill="#D95319"/>
<rect x="394.2" y="364.6" width="3.6" height="3.6" fill="#D95319"/>
<circle cx="396" cy="397.6" r="2.6" fill="#D95319"/>
<rect x="400" y="366.8" width="3.6" height="3.6" fill="#D95319"/>
<circle cx="401.8" cy="398.1" r="2.6" fill="#D95319"/>
<rect x="405.8" y="365.8" width="3.6" height="3.6" fill="#D95319"/>
<circle cx="407.6" cy="398.1" r="2.6" fill="#D95319"/>
<rect x="411.6" y="365.8" width="3.6" height="3.6" fill="#D95319"/>
<circle cx="413.4" cy="398.1" r="2.6" fill="#D95319"/>
<rect x="417.4" y="365.8" width="3.6" height="3.6" fill="#D95319"/>
<circle cx="419.2" cy="398.1" r="2.6" fill="#D95319"/>
<rect x="423.2" y="360.3" width="3.6" height="3.6" fill="#D95319"/>
<circle cx="425" cy="395.5" r="2.6" fill="#D95319"/>
<rect x="429" y="362.5" width="3.6" height="3.6" fill="#D95319"/>
<circle cx="430.8" cy="396.4" r="2.6" fill="#D95319"/>
<rect x="434.8" y="361.5" width="3.6" height="3.6" fill="#D95319"/>
<circle cx="436.6" cy="395.5" r="2.6" fill="#D95319"/>
<rect x="440.6" y="360.4" width="3.6" height="3.6" fill="#D95319"/>
<circle cx="442.4" cy="395.3" r="2.6" fill="#D95319"/>
<rect x="446.4" y="360.2" width="3.6" height="3.6" fill="#D95319"/>
<circle cx="448.2" cy="395.3" r="2.6" fill="#D95319"/>
<rect x="452.2" y="358.3" width="3.6" height="3.6" fill="#D95319"/>
<circle cx="454" cy="394.1" r="2.6" fill="#D95319"/>
<rect x="458" y="354" width="3.6" height="3.6" fill="#D95319"/>
<circle cx="459.8" cy="391.5" r="2.6" fill="#D95319"/>
<rect x="463.8" y="360" width="3.6" height="3.6" fill="#D95319"/>
<circle cx="465.6" cy="395.3" r="2.6" fill="#D95319"/>
<rect x="469.6" y="354.9" width="3.6" height="3.6" fill="#D95319"/>
<circle cx="471.4" cy="392.4" r="2.6" fill="#D95319"/>
<rect x="475.4" y="357.1" width="3.6" height="3.6" fill="#D95319"/>
<circle cx="477.2" cy="393.6" r="2.6" fill="#D95319"/>
<rect x="481.2" y="352.8" width="3.6" height="3.6" fill="#D95319"/>
<circle cx="483" cy="391" r="2.6" fill="#D95319"/>
<rect x="487" y="352.8" width="3.6" height="3.6" fill="#D95319"/>
<circle cx="488.8" cy="391" r="2.6" fill="#D95319"/>
<rect x="492.8" y="354.5" width="3.6" height="3.6" fill="#D95319"/>
<circle cx="494.6" cy="391.8" r="2.6" fill="#D95319"/>
<rect x="498.6" y="353.7" width="3.6" height="3.6" fill="#D95319"/>
<circle cx="500.4" cy="391.5" r="2.6" fill="#D95319"/>
<rect x="504.4" y="354.9" width="3.6" height="3.6" fill="#D95319"/>
<circle cx="506.2" cy="392" r="2.6" fill="#D95319"/>
<rect x="510.2" y="356.2" width="3.6" height="3.6" fill="#D95319"/>
<circle cx="512" cy="393.2" r="2.6" fill="#D95319"/>
<rect x="516" y="353.7" width="3.6" height="3.6" fill="#D95319"/>
<circle cx="517.8" cy="391.4" r="2.6" fill="#D95319"/>
<rect x="521.8" y="354.5" width="3.6" height="3.6" fill="#D95319"/>
<circle cx="523.6" cy="391.8" r="2.6" fill="#D95319"/>
<rect x="527.6" y="353.7" width="3.6" height="3.6" fill="#D95319"/>
<circle cx="529.4" cy="391.2" r="2.6" fill="#D95319"/>
<rect x="533.4" y="352.3" width="3.6" height="3.6" fill="#D95319"/>
<circle cx="535.2" cy="390.6" r="2.6" fill="#D95319"/>
<rect x="539.2" y="352.8" width="3.6" height="3.6" fill="#D95319"/>
<circle cx="541" cy="391" r="2.6" fill="#D95319"/>
<rect x="545" y="354.9" width="3.6" height="3.6" fill="#D95319"/>
<circle cx="546.8" cy="392.4" r="2.6" fill="#D95319"/>
<rect x="550.8" y="357.6" width="3.6" height="3.6" fill="#D95319"/>
<circle cx="552.6" cy="394.1" r="2.6" fill="#D95319"/>
<rect x="556.6" y="357.9" width="3.6" height="3.6" fill="#D95319"/>
<circle cx="558.4" cy="394.1" r="2.6" fill="#D95319"/>
<rect x="562.4" y="354.5" width="3.6" height="3.6" fill="#D95319"/>
<circle cx="564.2" cy="391.5" r="2.6" fill="#D95319"/>
<rect x="568.2" y="358.8" width="3.6" height="3.6" fill="#D95319"/>
<circle cx="570" cy="394.6" r="2.6" fill="#D95319"/>
<rect x="574" y="356.2" width="3.6" height="3.6" fill="#D95319"/>
<circle cx="575.8" cy="393.2" r="2.6" fill="#D95319"/>
<rect x="579.8" y="359.7" width="3.6" height="3.6" fill="#D95319"/>
<circle cx="581.6" cy="394.9" r="2.6" fill="#D95319"/>
<path d="M378.6,362.5V367.5M376.8,362.5h3.6M376.8,367.5h3.6M384.4,359.7V366.1M382.6,359.7h3.6M382.6,366.1h3.6M390.2,362.5V367.5M388.4,362.5h3.6M388.4,367.5h3.6M396,363.9V368.9M394.2,363.9h3.6M394.2,368.9h3.6M401.8,365.6V371.6M400,365.6h3.6M400,371.6h3.6M407.6,364.8V370.4M405.8,364.8h3.6M405.8,370.4h3.6M413.4,365V370.2M411.6,365h3.6M411.6,370.2h3.6M419.2,365.1V370.1M417.4,365.1h3.6M417.4,370.1h3.6M425,358.9V365.3M423.2,358.9h3.6M423.2,365.3h3.6M430.8,361.8V366.8M429,361.8h3.6M429,366.8h3.6M436.6,360.8V365.8M434.8,360.8h3.6M434.8,365.8h3.6M442.4,359.7V364.7M440.6,359.7h3.6M440.6,364.7h3.6M448.2,359.5V364.5M446.4,359.5h3.6M446.4,364.5h3.6M454,357.6V362.6M452.2,357.6h3.6M452.2,362.6h3.6M459.8,353.3V358.3M458,353.3h3.6M458,358.3h3.6M465.6,359.3V364.3M463.8,359.3h3.6M463.8,364.3h3.6M471.4,354.1V359.3M469.6,354.1h3.6M469.6,359.3h3.6M477.2,356.3V361.5M475.4,356.3h3.6M475.4,361.5h3.6M483,352.1V357.1M481.2,352.1h3.6M481.2,357.1h3.6M488.8,352.1V357.1M487,352.1h3.6M487,357.1h3.6M494.6,353.8V358.8M492.8,353.8h3.6M492.8,358.8h3.6M500.4,353V358M498.6,353h3.6M498.6,358h3.6M506.2,354.1V359.3M504.4,354.1h3.6M504.4,359.3h3.6M512,355.5V360.5M510.2,355.5h3.6M510.2,360.5h3.6M517.8,353V358M516,353h3.6M516,358h3.6M523.6,353.8V358.8M521.8,353.8h3.6M521.8,358.8h3.6M529.4,353V358M527.6,353h3.6M527.6,358h3.6M535.2,351.6V356.6M533.4,351.6h3.6M533.4,356.6h3.6M541,352.1V357.1M539.2,352.1h3.6M539.2,357.1h3.6M546.8,354.2V359.2M545,354.2h3.6M545,359.2h3.6M552.6,356.2V362.6M550.8,356.2h3.6M550.8,362.6h3.6M558.4,357.2V362.2M556.6,357.2h3.6M556.6,362.2h3.6M564.2,353.8V358.8M562.4,353.8h3.6M562.4,358.8h3.6M570,356.6V364.6M568.2,356.6h3.6M568.2,364.6h3.6M575.8,354.4V361.6M574,354.4h3.6M574,361.6h3.6M581.6,359V364M579.8,359h3.6M579.8,364h3.6" fill="none" stroke="#D95319" stroke-width="0.9"/>
<circle cx="533.4" cy="409.5" r="2.6" fill="#D95319"/>
<rect x="531.4" y="420.2" width="3.6" height="3.6" fill="#D95319"/>
<path d="M533.2,404.5V413.7M531.4,404.5h3.6M531.4,413.7h3.6M533.2,417.6V426.4M531.4,417.6h3.6M531.4,426.4h3.6" stroke="#D95319" stroke-width="0.8" fill="none"/>
<text x="546.5" y="413.3" font-size="9.6" text-anchor="start" fill="#262626" stroke="#262626" >B=31 mV</text>
<text x="546.5" y="425.2" font-size="9.6" text-anchor="start" fill="#262626" stroke="#262626" >B=56 mV</text>
</svg></body></html>
